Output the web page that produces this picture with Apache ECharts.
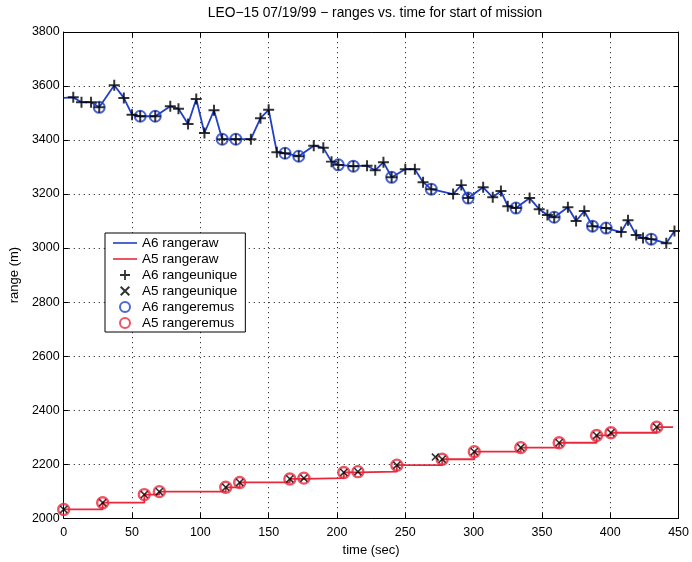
<!DOCTYPE html>
<html><head><meta charset="utf-8">
<script src="https://cdn.jsdelivr.net/npm/echarts@6/dist/echarts.min.js"></script>
<style>html,body{margin:0;padding:0;background:#fff}#c{width:692px;height:562px}</style>
</head><body><div id="c"></div>
<script>
// ---- data ----
const titleText = 'LEO\u221215 07/19/99 \u2212 ranges vs. time for start of mission';
const xMin = 0, xMax = 450, xStep = 50;
const yMin = 2000, yMax = 3800, yStep = 200;

// A6 raw range samples (time sec, range m)
const a6Time  = [0, 7, 13, 20, 26, 37, 44, 50, 56, 67, 78, 84, 91, 97, 103, 110, 116, 126, 137, 144, 150, 156, 162, 172, 183, 190, 196, 201, 212, 222, 228, 234, 240, 250, 257, 263, 269, 285, 291, 296, 307, 314, 320, 325, 331, 341, 348, 354, 359, 369, 375, 381, 387, 397, 408, 413, 419, 424, 430, 441, 447];
const a6Range = [3556, 3558, 3540, 3540, 3521, 3603, 3556, 3494, 3488, 3488, 3525, 3516, 3459, 3552, 3426, 3510, 3403, 3403, 3403, 3481, 3512, 3355, 3351, 3340, 3379, 3371, 3320, 3308, 3303, 3305, 3288, 3318, 3262, 3292, 3292, 3244, 3218, 3200, 3233, 3185, 3225, 3188, 3211, 3155, 3148, 3185, 3144, 3122, 3114, 3151, 3100, 3137, 3081, 3074, 3059, 3103, 3048, 3037, 3033, 3018, 3063];
// A6 unique samples start after the first raw sample
const a6UniqueFrom = 1;
// times of A6 samples kept after outlier removal
const a6RemusTime = [26, 56, 67, 116, 126, 162, 172, 201, 212, 240, 269, 296, 331, 359, 387, 397, 430];

// A5 samples kept after outlier removal
const a5RemusTime  = [0, 28.5, 59, 70, 118.6, 128.8, 165.5, 175.8, 205, 215.3, 243.8, 277, 300.5, 334.5, 362.6, 390, 400.5, 434];
const a5RemusRange = [2032, 2057, 2087, 2098, 2114, 2132, 2145, 2148, 2169, 2172, 2196, 2218, 2246, 2261, 2279, 2306, 2316, 2337];
// A5 unique samples
const a5UniqueTime  = [0, 28.5, 59, 70, 118.6, 128.8, 165.5, 175.8, 205, 215.3, 243.8, 272, 277, 300.5, 334.5, 362.6, 390, 400.5, 434];
const a5UniqueRange = [2032, 2057, 2087, 2098, 2114, 2132, 2145, 2148, 2169, 2172, 2196, 2226, 2218, 2246, 2261, 2279, 2306, 2316, 2337];
// A5 raw: held values, last sample time
const a5RawTime  = [0, 28.5, 59, 70, 118.6, 128.8, 165.5, 175.8, 205, 215.3, 243.8, 277, 300.5, 334.5, 362.6, 390, 400.5, 434, 446];
const a5RawRange = [2032, 2057, 2087, 2098, 2114, 2132, 2145, 2148, 2169, 2172, 2196, 2218, 2246, 2261, 2279, 2306, 2316, 2337, 2337];

const legendNames = ['A6 rangeraw', 'A5 rangeraw', 'A6 rangeunique', 'A5 rangeunique', 'A6 rangeremus', 'A5 rangeremus'];

// ---- build ----
const zip = (xs, ys) => xs.map((x, i) => [x, ys[i]]);
const a6Raw = zip(a6Time, a6Range);
const a6Unique = a6Raw.slice(a6UniqueFrom);
const a6Remus = a6RemusTime.map(t => [t, a6Range[a6Time.indexOf(t)]]);

const FONT = '"Liberation Sans", Arial, Helvetica, sans-serif';
const BLUE = '#2140c8', RED = '#e8283c';
const plusPath = 'path://M4.1,0H5.9V4.1H10V5.9H5.9V10H4.1V5.9H0V4.1H4.1Z';
const xPath = 'path://M0,1.4L1.4,0L10,8.6L8.6,10ZM8.6,0L10,1.4L1.4,10L0,8.6Z';
const linePath = 'path://M0,0H24V1.6H0Z';

const gridLine = {show: true, lineStyle: {color: '#333', width: 1, type: [1.2, 3.8]}};
const axisLineStyle = {show: true, onZero: false, lineStyle: {color: '#000', width: 1}};
const tickStyle = {show: true, inside: true, length: 5, lineStyle: {color: '#000', width: 1}};

const legendIcons = [linePath, linePath, plusPath, xPath, 'circle', 'circle'];

const chart = echarts.init(document.getElementById('c'), null, {renderer: 'canvas'});
chart.setOption({
  animation: false,
  backgroundColor: '#fff',
  textStyle: {fontFamily: FONT},
  graphic: [{
    type: 'text', x: 375, y: 13,
    style: {text: titleText, font: '13.8px ' + FONT, fill: '#000', align: 'center', verticalAlign: 'middle'}
  }],
  grid: {left: 62, right: 12, top: 32, bottom: 40, containLabel: false},
  legend: {
    orient: 'vertical', left: 105, top: 233,
    data: legendNames.map((n, i) => ({name: n, icon: legendIcons[i]})),
    itemWidth: 24, itemHeight: 10, itemGap: 2,
    padding: [3, 8, 2, 8],
    borderColor: '#000', borderWidth: 1, backgroundColor: '#fff',
    symbolKeepAspect: true,
    textStyle: {fontFamily: FONT, fontSize: 13.5, color: '#000', lineHeight: 14},
    selectedMode: false
  },
  xAxis: [{
    type: 'value', min: xMin, max: xMax, interval: xStep, position: 'bottom',
    name: 'time (sec)', nameLocation: 'middle', nameGap: 20,
    nameTextStyle: {fontFamily: FONT, fontSize: 13, color: '#000'},
    axisLine: axisLineStyle, axisTick: tickStyle,
    axisLabel: {fontFamily: FONT, fontSize: 12.5, color: '#000', margin: 8, formatter: v => String(v)},
    splitLine: gridLine
  }, {
    type: 'value', min: xMin, max: xMax, interval: xStep, position: 'top',
    axisLine: axisLineStyle, axisTick: tickStyle, axisLabel: {show: false}, splitLine: {show: false}
  }],
  yAxis: [{
    type: 'value', min: yMin, max: yMax, interval: yStep, position: 'left',
    name: 'range (m)', nameLocation: 'middle', nameGap: 30,
    nameTextStyle: {fontFamily: FONT, fontSize: 13, color: '#000'},
    axisLine: axisLineStyle, axisTick: tickStyle,
    axisLabel: {fontFamily: FONT, fontSize: 12.5, color: '#000', margin: 4, formatter: v => String(v)},
    splitLine: gridLine
  }, {
    type: 'value', min: yMin, max: yMax, interval: yStep, position: 'right',
    axisLine: axisLineStyle, axisTick: tickStyle, axisLabel: {show: false}, splitLine: {show: false}
  }],
  series: [
    {name: 'A6 rangeraw', type: 'line', data: a6Raw, symbol: 'none',
     lineStyle: {color: BLUE, width: 1.8}, itemStyle: {color: BLUE}, z: 2},
    {name: 'A5 rangeraw', type: 'line', data: zip(a5RawTime, a5RawRange), symbol: 'none', step: 'end',
     lineStyle: {color: RED, width: 1.8}, itemStyle: {color: RED}, z: 2},
    {name: 'A6 rangeunique', type: 'scatter', data: a6Unique, symbol: plusPath, symbolSize: 11,
     itemStyle: {color: '#000'}, z: 5},
    {name: 'A5 rangeunique', type: 'scatter', data: zip(a5UniqueTime, a5UniqueRange), symbol: xPath, symbolSize: 8,
     itemStyle: {color: '#000'}, z: 5},
    {name: 'A6 rangeremus', type: 'scatter', data: a6Remus, symbol: 'circle', symbolSize: 11,
     itemStyle: {color: 'rgba(0,0,0,0)', borderColor: BLUE, borderWidth: 2}, z: 4},
    {name: 'A5 rangeremus', type: 'scatter', data: zip(a5RemusTime, a5RemusRange), symbol: 'circle', symbolSize: 11,
     itemStyle: {color: 'rgba(0,0,0,0)', borderColor: RED, borderWidth: 2.4}, z: 4}
  ]
});
</script>
</body></html>
